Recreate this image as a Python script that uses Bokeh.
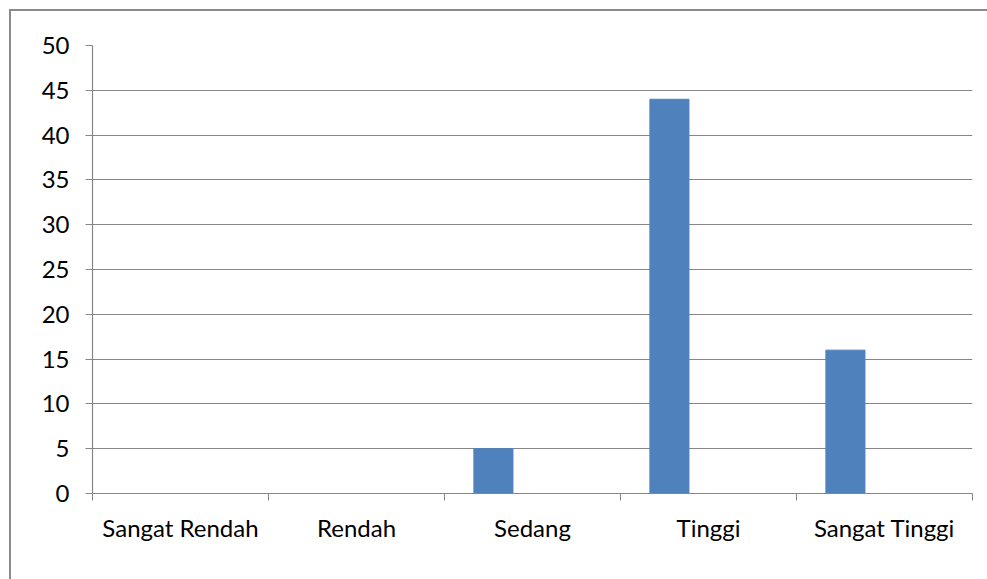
from bokeh.plotting import figure
from bokeh.models import FixedTicker, Range1d, ColumnDataSource
from bokeh.transform import dodge
from bokeh.embed import file_html
from bokeh.resources import INLINE

categories = ["Sangat Rendah", "Rendah", "Sedang", "Tinggi", "Sangat Tinggi"]
values = [0, 0, 5, 44, 16]
y_ticks = [0, 5, 10, 15, 20, 25, 30, 35, 40, 45, 50]

centers = [i + 0.5 for i in range(len(categories))]
bounds = [i for i in range(len(categories) + 1)]

FONT = "Lato"
BAR_W = 0.222

src = ColumnDataSource(data=dict(x=centers, top=values))

p = figure(width=978, height=570, output_backend="svg", toolbar_location=None,
           x_range=Range1d(0, len(categories)), y_range=Range1d(0, 50))
p.margin = (9, 0, 0, 9)
p.styles = {"border-top": "2px solid #8a8a8a", "border-left": "2px solid #8a8a8a",
            "box-sizing": "border-box"}
p.min_border_left = 81
p.min_border_top = 34
p.min_border_right = 17
p.min_border_bottom = 88
p.outline_line_color = None
p.background_fill_color = "white"
p.border_fill_color = "white"

p.vbar(x=dodge("x", -BAR_W, range=p.x_range), top="top", width=BAR_W, source=src,
       fill_color="#4F81BD", line_color="#4F81BD")

p.xgrid.grid_line_color = None
p.ygrid.ticker = FixedTicker(ticks=y_ticks)
p.ygrid.grid_line_color = "#868686"
p.ygrid.grid_line_width = 1.2

p.yaxis.ticker = FixedTicker(ticks=y_ticks)
p.yaxis.axis_line_color = "#868686"
p.yaxis.axis_line_width = 1.2
p.yaxis.major_tick_line_color = "#868686"
p.yaxis.major_tick_out = 7
p.yaxis.major_tick_in = 0
p.yaxis.minor_tick_line_color = None
p.yaxis.major_label_text_font = FONT
p.yaxis.major_label_text_font_size = "24px"
p.yaxis.major_label_text_color = "black"
p.yaxis.major_label_standoff = 16

p.xaxis.ticker = FixedTicker(ticks=centers, minor_ticks=bounds)
p.xaxis.major_label_overrides = {c: lab for c, lab in zip(centers, categories)}
p.xaxis.axis_line_color = "#868686"
p.xaxis.axis_line_width = 1.2
p.xaxis.major_tick_line_color = None
p.xaxis.major_tick_out = 0
p.xaxis.major_tick_in = 0
p.xaxis.minor_tick_line_color = "#868686"
p.xaxis.minor_tick_out = 7
p.xaxis.minor_tick_in = 0
p.xaxis.major_label_text_font = FONT
p.xaxis.major_label_text_font_size = "24px"
p.xaxis.major_label_text_color = "black"
p.xaxis.major_label_standoff = 12

open("out.html", "w").write(file_html(p, INLINE))
